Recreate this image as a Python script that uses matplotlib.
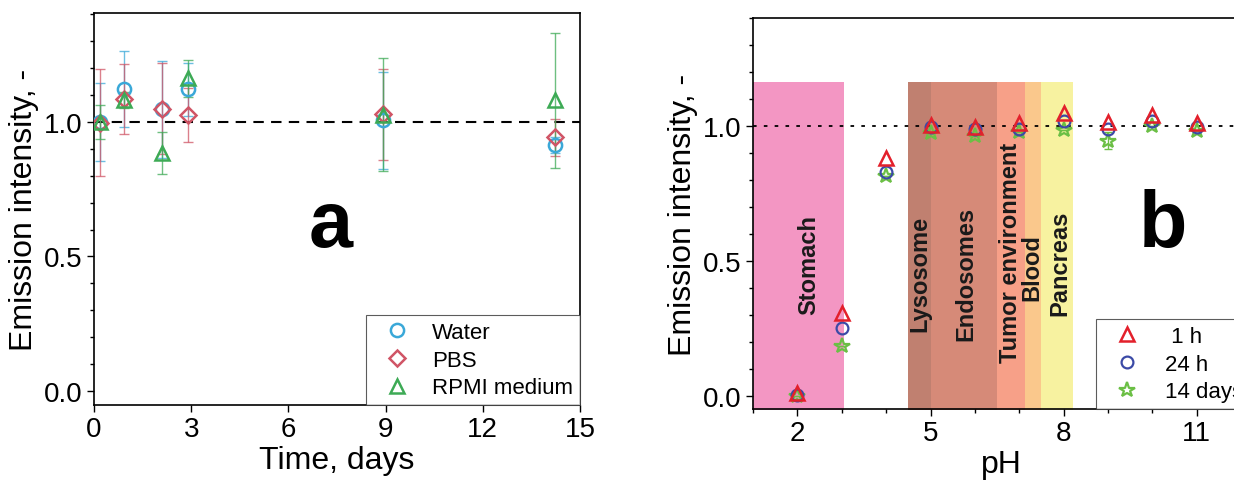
import numpy as np
import matplotlib
matplotlib.use("Agg")
import matplotlib.pyplot as plt
from matplotlib.ticker import MultipleLocator

plt.rcParams['font.family'] = ['Liberation Sans', 'DejaVu Sans']

# ---- panel a: stability over time ----
days = [0.2, 0.94, 2.1, 2.89, 8.91, 14.23]
water = [1.00, 1.123, 1.047, 1.121, 1.007, 0.915]
water_err = [0.145, 0.14, 0.18, 0.10, 0.18, 0.03]
pbs = [0.998, 1.084, 1.05, 1.025, 1.028, 0.943]
pbs_err = [0.20, 0.13, 0.17, 0.10, 0.17, 0.069]
rpmi = [1.00, 1.081, 0.884, 1.162, 1.027, 1.08]
rpmi_err = [0.063, 0.03, 0.077, 0.07, 0.21, 0.25]

# ---- panel b: pH dependence ----
ph = [2, 3, 4, 5, 6, 7, 8, 9, 10, 11]
h1 = [0.012, 0.309, 0.881, 1.005, 0.995, 1.01, 1.05, 1.016, 1.04, 1.01]
h24 = [0.005, 0.253, 0.831, 0.998, 0.99, 0.99, 1.02, 0.99, 1.02, 0.995]
d14 = [0.0, 0.185, 0.816, 0.974, 0.962, 0.979, 0.985, 0.946, 0.999, 0.983]
d14_err = [0.0, 0.0, 0.0, 0.0, 0.0, 0.0, 0.0, 0.03, 0.0, 0.0]

regions = ['Stomach', 'Lysosome', 'Endosomes', 'Tumor environment', 'Blood', 'Pancreas']
region_lo = [1.0, 4.5, 5.0, 6.5, 7.13, 7.5]
region_hi = [3.05, 5.0, 6.53, 7.13, 7.5, 8.21]
region_top = 1.163
region_colors = ['#F396C3', '#C08070', '#D68A78', '#F7A088', '#FAC88C', '#F7F2A0']
label_x = [2.25, 4.76, 5.80, 6.81, 7.29, 7.91]
label_y = [0.49, 0.456, 0.456, 0.533, 0.48, 0.496]

fig = plt.figure(figsize=(12.34, 4.89), dpi=100)
ax1 = fig.add_axes([94/1234, 83/489, 486/1234, 392/489])
ax2 = fig.add_axes([753/1234, 79/489, 497/1234, 391/489])

TICK = 20
LAB = 23

# panel a
c_w, c_p, c_r = '#3AA8D8', '#D05566', '#3DAA55'
ax1.axhline(1.0, color='black', ls=(0, (5, 3.5)), lw=1.5, zorder=1)
for y, e, c, m, ms, lab in [(water, water_err, c_w, 'o', 9.5, 'Water'),
                            (pbs, pbs_err, c_p, 'D', 8.5, 'PBS'),
                            (rpmi, rpmi_err, c_r, '^', 10.5, 'RPMI medium')]:
    ax1.errorbar(days, y, yerr=e, fmt='none', ecolor=c, elinewidth=1,
                 capsize=3.5, capthick=1, alpha=0.75, zorder=2)
    ax1.plot(days, y, ls='none', marker=m, ms=ms, mfc='none', mec=c, mew=1.8,
             label=lab, zorder=3)
ax1.set_xlim(0, 15)
ax1.set_ylim(-0.052, 1.405)
ax1.xaxis.set_major_locator(MultipleLocator(3))
ax1.yaxis.set_major_locator(MultipleLocator(0.5))
ax1.yaxis.set_minor_locator(MultipleLocator(0.1))
ax1.set_xlabel('Time, days', fontsize=LAB, labelpad=2)
ax1.set_ylabel('Emission intensity, -', fontsize=LAB)
ax1.text(7.31, 0.54, 'a', fontsize=57, fontweight='bold', ha='center', va='baseline')
leg1 = ax1.legend(loc='lower right', borderaxespad=0, fontsize=16, frameon=True,
                  fancybox=False, edgecolor='#333333', handletextpad=0.5,
                  handlelength=2.2, borderpad=0.3, labelspacing=0.3)
leg1.get_frame().set_linewidth(0.8)

# panel b
for lo, hi, col in zip(region_lo, region_hi, region_colors):
    ax2.fill_between([lo, hi], -0.1, region_top, color=col, lw=0, zorder=0)
for name, x, y in zip(regions, label_x, label_y):
    ax2.text(x, y, name, rotation=90, fontsize=17, fontweight='bold',
             ha='center', va='center', color='#1a1a1a', zorder=1)
ax2.axhline(1.0, color='black', ls=(0, (2, 4)), lw=1.3, zorder=1)
c1, c24, c14 = '#E3202B', '#3B4AA6', '#6BBF45'
ax2.errorbar(ph, d14, yerr=d14_err, fmt='none', ecolor=c14, elinewidth=1,
             capsize=3, zorder=2)
ax2.plot(ph, d14, ls='none', marker='*', ms=11.5, mfc='none', mec=c14, mew=1.6,
         label='14 days', zorder=3)
ax2.plot(ph, h24, ls='none', marker='o', ms=8.5, mfc='none', mec=c24, mew=1.6,
         label='24 h', zorder=4)
ax2.plot(ph, h1, ls='none', marker='^', ms=10.5, mfc='none', mec=c1, mew=1.8,
         label=' 1 h', zorder=5)
ax2.set_xlim(1, 12.2)
ax2.set_ylim(-0.048, 1.40)
ax2.set_xticks([2, 5, 8, 11])
ax2.xaxis.set_minor_locator(MultipleLocator(1))
ax2.yaxis.set_major_locator(MultipleLocator(0.5))
ax2.yaxis.set_minor_locator(MultipleLocator(0.1))
ax2.set_xlabel('pH', fontsize=LAB, labelpad=2)
ax2.set_ylabel('Emission intensity, -', fontsize=LAB)
ax2.text(10.23, 0.556, 'b', fontsize=57, fontweight='bold', ha='center', va='baseline')
h, l = ax2.get_legend_handles_labels()
leg2 = ax2.legend(h[::-1], l[::-1], loc='lower right', borderaxespad=0, fontsize=16,
                  frameon=True, fancybox=False, edgecolor='#333333',
                  handletextpad=0.6, handlelength=2.2, borderpad=0.3, labelspacing=0.3)
leg2.get_frame().set_linewidth(0.8)

for ax in (ax1, ax2):
    ax.tick_params(which='both', direction='out', top=False, right=False)
    ax.tick_params(which='major', length=5, width=1, labelsize=TICK, pad=3)
    ax.tick_params(which='minor', length=3, width=1)
    for s in ax.spines.values():
        s.set_linewidth(1.2)
    ax.yaxis.set_major_formatter(matplotlib.ticker.FormatStrFormatter('%.1f'))

fig.savefig('out.png', dpi=100)
